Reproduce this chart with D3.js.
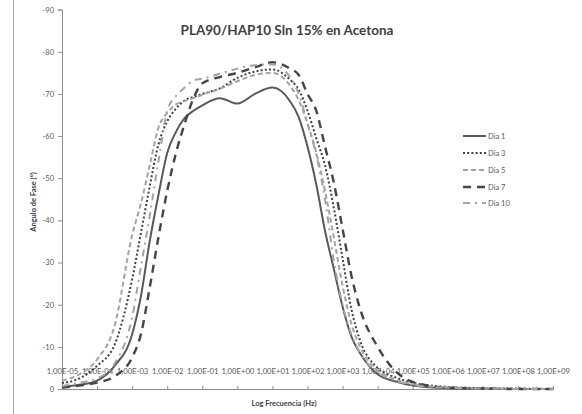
<!DOCTYPE html>
<html><head><meta charset="utf-8">
<script src="https://cdn.jsdelivr.net/npm/d3@7/dist/d3.min.js"></script>
<style>html,body{margin:0;padding:0;background:#fff;}svg{display:block;}</style>
</head><body>
<svg id="chart" width="582" height="414"></svg>
<script>
const title = "PLA90/HAP10 Sln 15% en Acetona";
const xTitle = "Log Frecuencia (Hz)";
const yTitle = "Angulo de Fase (°)";
const tickValues = [1e-5,1e-4,1e-3,1e-2,1e-1,1e0,1e1,1e2,1e3,1e4,1e5,1e6,1e7,1e8,1e9];
const tickLabels = ["1,00E-05","1,00E-04","1,00E-03","1,00E-02","1,00E-01","1,00E+00","1,00E+01","1,00E+02","1,00E+03","1,00E+04","1,00E+05","1,00E+06","1,00E+07","1,00E+08","1,00E+09"];
const yTicks = [0,-10,-20,-30,-40,-50,-60,-70,-80,-90];
const frequency = [1e-5,3.16e-5,1e-4,3.16e-4,1e-3,1.78e-3,3.16e-3,5.62e-3,1e-2,1.78e-2,3.16e-2,5.62e-2,0.1,0.316,1,3.16,10,31.6,56.2,100,178,316,562,1000,1778,3162,1e4,3.16e4,1e5,1e6,1e7,1e8,1e9];
const dia1  = [-0.5,-1,-2,-5.5,-13,-22,-35,-46,-56,-61,-64.3,-66,-67.3,-69,-67.7,-70,-71.5,-68.3,-64.5,-57.5,-48.5,-37.5,-28.5,-19.5,-12.5,-8.5,-3.5,-1.8,-0.8,-0.2,-0.1,0,0];
const dia3  = [-1.4,-2.5,-5.5,-10.5,-26,-37,-48,-58,-63.5,-66.5,-68.5,-69.3,-70,-71.3,-73.8,-75.3,-75.8,-73.4,-71,-66,-59.5,-53,-43,-31,-19,-11.5,-5,-2.8,-1.5,-0.5,-0.2,-0.1,0];
const dia5  = [-2,-3.5,-7,-15,-36.5,-44,-53,-62,-65.5,-67.5,-68.3,-69,-69.8,-71.2,-73,-74.5,-75,-72,-68.5,-63,-56,-47,-36,-24.5,-15.5,-10,-4.5,-2.3,-1.2,-0.4,-0.2,0,0];
const dia7  = [-0.3,-0.8,-1.5,-3,-7.5,-13,-24,-36,-47,-56,-63,-69,-72.5,-74,-75,-76.3,-77.5,-76,-74.5,-70,-66,-57.5,-49,-38,-27,-19,-10,-4.3,-1.7,-0.3,-0.1,0,0];
const dia10 = [-0.7,-1.5,-2.5,-6,-17,-29,-41,-54,-66,-69.5,-71.5,-73.2,-73.6,-74.8,-76,-76.8,-77,-74,-70,-63,-55.5,-45,-30.5,-20,-13,-8.5,-4,-2,-1,-0.3,-0.1,0,0];
const seriesNames = ["Dia 1","Dia 3","Dia 5","Dia 7","Dia 10"];
const seriesValues = [dia1, dia3, dia5, dia7, dia10];
const seriesColors = ["#595959","#3f3f3f","#a3a3a3","#454545","#a3a3a3"];
const seriesDash = [null,"2,2.2","5,3","8,6","7,5,2,5"];
const seriesWidth = [2,2,2,2.4,2];

const svg = d3.select("#chart");
const x = d3.scaleLog().domain([1e-5,1e9]).range([62,553]);
const y = d3.scaleLinear().domain([0,-90]).range([389,9.6]);
const font = "Lato, 'Liberation Sans', sans-serif";

// left border
svg.append("line").attr("x1",13.5).attr("x2",13.5).attr("y1",0).attr("y2",414).attr("stroke","#a6a6a6").attr("stroke-width",1);

// y axis
const yAxis = d3.axisLeft(y).tickValues(yTicks).tickSize(4).tickFormat(d=>d===0?"0":String(d));
const gy = svg.append("g").attr("transform","translate(62,0)").call(yAxis);
gy.select(".domain").attr("stroke","#8c8c8c");
gy.selectAll(".tick line").attr("stroke","#8c8c8c");
gy.selectAll(".tick text").attr("fill","#595959").attr("font-family",font).attr("font-size",7.5).attr("x",-8);

// x axis
const xAxis = d3.axisBottom(x).tickValues(tickValues).tickSize(-3).tickFormat((d,i)=>tickLabels[i]);
const gx = svg.append("g").attr("transform","translate(0,389)").call(xAxis);
gx.select(".domain").attr("stroke","#8c8c8c");
gx.selectAll(".tick line").attr("stroke","#8c8c8c");
gx.selectAll(".tick text").attr("fill","#595959").attr("font-family",font).attr("font-size",7.7).attr("y",-15).attr("dy","0");

// lines
const line = d3.line().x((d,i)=>x(frequency[i])).y(d=>y(d)).curve(d3.curveMonotoneX);
seriesValues.forEach((vals,k)=>{
  svg.append("path").datum(vals).attr("d",line).attr("fill","none")
    .attr("stroke",seriesColors[k]).attr("stroke-width",seriesWidth[k])
    .attr("stroke-dasharray",seriesDash[k]);
});

// title
svg.append("text").attr("x",287).attr("y",35).attr("text-anchor","middle")
  .attr("font-family",font).attr("font-weight","bold").attr("font-size",13.5).attr("fill","#404040").text(title);
svg.append("text").attr("x",284).attr("y",406).attr("text-anchor","middle")
  .attr("font-family",font).attr("font-weight","bold").attr("font-size",7.5).attr("fill","#404040").text(xTitle);
svg.append("text").attr("transform","translate(36,202) rotate(-90)").attr("text-anchor","middle")
  .attr("font-family",font).attr("font-weight","bold").attr("font-size",7.5).attr("fill","#404040").text(yTitle);

// legend
const legendY = [136,153,170,187,203];
seriesNames.forEach((n,k)=>{
  svg.append("line").attr("x1",463).attr("x2",486).attr("y1",legendY[k]).attr("y2",legendY[k])
    .attr("stroke",seriesColors[k]).attr("stroke-width",seriesWidth[k]).attr("stroke-dasharray",seriesDash[k]);
  svg.append("text").attr("x",488).attr("y",legendY[k]+2.6).attr("font-family",font)
    .attr("font-size",7.5).attr("fill","#595959").text(n);
});
</script>
</body></html>
